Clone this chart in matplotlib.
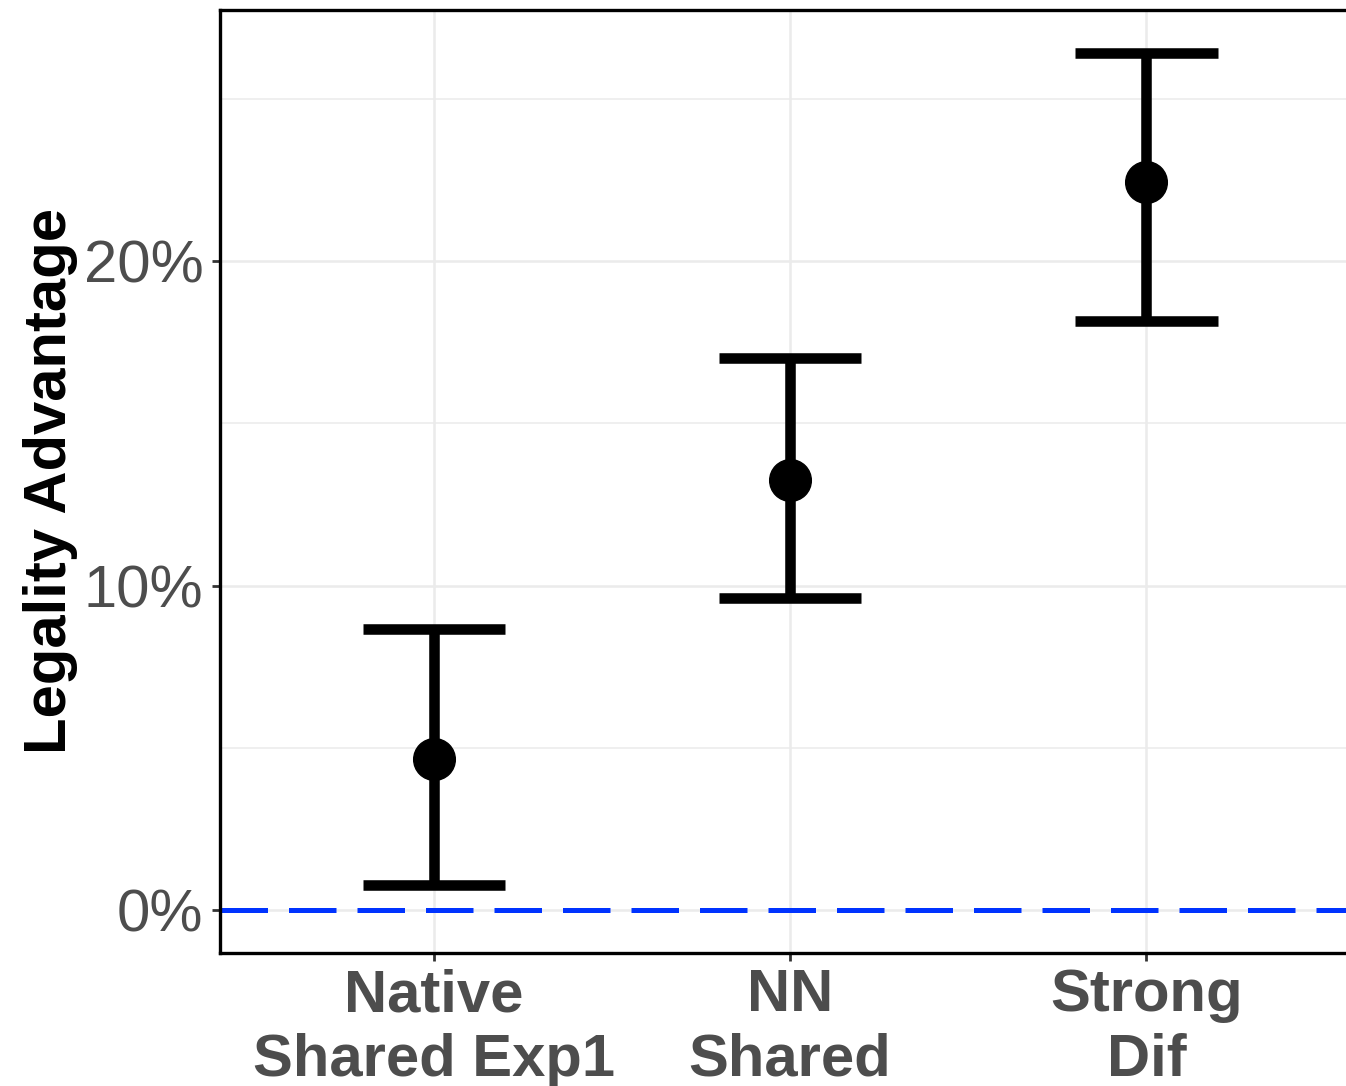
import numpy as np
import matplotlib
matplotlib.use("Agg")
import matplotlib.pyplot as plt
from matplotlib.ticker import FuncFormatter, MultipleLocator

plt.rcParams['font.family'] = ['Liberation Sans', 'DejaVu Sans']

# data (proportions)
groups = ["Native\nShared Exp1", "NN\nShared", "Strong\nDif"]
est = [0.0467, 0.1327, 0.2243]
lower = [0.0077, 0.0962, 0.1816]
upper = [0.0866, 0.1702, 0.2642]

x = np.arange(1, len(groups) + 1)

fig = plt.figure(figsize=(13.46, 10.86), dpi=100)
ax = fig.add_axes([0.1635, 0.1225, 0.847, 0.8683])

# grid like theme_bw
for v in [0.05, 0.15, 0.25]:
    ax.axhline(v, color="#EBEBEB", lw=1.1, zorder=0)
for v in [0.0, 0.1, 0.2]:
    ax.axhline(v, color="#EBEBEB", lw=1.8, zorder=0)
for v in x:
    ax.axvline(v, color="#EBEBEB", lw=1.8, zorder=0)

# reference line
ax.axhline(0, color="#0033FF", lw=3.6, ls=(0, (9.5, 4.2)), zorder=1)

# error bars + points
ax.vlines(x, lower, upper, color="black", lw=7.6, zorder=2)
ax.hlines(lower, x - 0.2, x + 0.2, color="black", lw=7.6, zorder=2)
ax.hlines(upper, x - 0.2, x + 0.2, color="black", lw=7.6, zorder=2)
ax.plot(x, est, "o", color="black", ms=30, zorder=3)

rng = max(upper) - 0
ax.set_ylim(0 - 0.05 * rng, max(upper) + 0.05 * rng)
ax.set_xlim(0.4, len(groups) + 0.6)

ax.yaxis.set_major_locator(MultipleLocator(0.1))
ax.yaxis.set_major_formatter(FuncFormatter(lambda v, p: f"{v*100:.0f}%"))
ax.set_xticks(x)
ax.set_xticklabels(groups, fontsize=43, fontweight="bold", color="#4D4D4D",
                   linespacing=1.22)
ax.tick_params(axis="y", labelsize=43, labelcolor="#4D4D4D")
ax.tick_params(length=6, width=2, color="#333333", pad=6)
ax.tick_params(axis="x", pad=5)

ax.set_ylabel("Legality Advantage", fontsize=43, fontweight="bold", labelpad=4)

for s in ax.spines.values():
    s.set_linewidth(2.4)
    s.set_color("black")

fig.savefig("out.png", dpi=100)
